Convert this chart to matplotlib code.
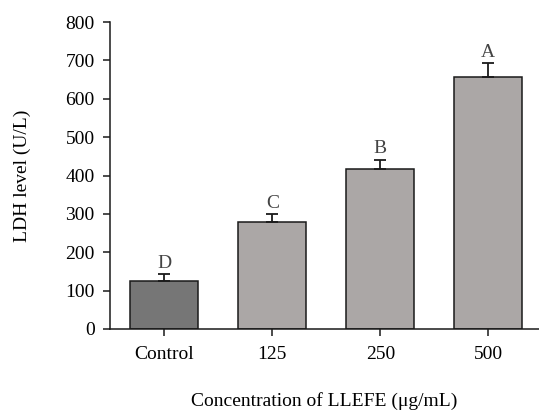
import matplotlib
matplotlib.use("Agg")
import matplotlib.pyplot as plt

# data
groups = ["Control", "125", "250", "500"]
ldh = [125, 279, 418, 657]
err = [18, 21, 23, 36]
letters = ["D", "C", "B", "A"]
bar_colors = ["#767676", "#aba7a6", "#aba7a6", "#aba7a6"]
yticks = [0, 100, 200, 300, 400, 500, 600, 700, 800]

plt.rcParams["font.family"] = ["Liberation Serif", "DejaVu Serif"]

fig = plt.figure(figsize=(5.39, 4.12), dpi=100)
ax = fig.add_axes([0.204, 0.2015, 0.796, 0.745])

x = list(range(len(groups)))
ax.bar(x, ldh, width=0.63, color=bar_colors, edgecolor="#1a1a1a", linewidth=1.1, zorder=2)
ax.errorbar(x, ldh, yerr=[[0] * len(err), err], fmt="none", ecolor="#1a1a1a",
            elinewidth=1.3, capsize=4, capthick=1.3, zorder=3)

for xi, v, e, lab in zip(x, ldh, err, letters):
    ax.text(xi, v + e + 6, lab, ha="center", va="bottom", fontsize=14, color="#444444")

ax.set_xlim(-0.505, 3.47)
ax.set_ylim(0, 800)
ax.set_yticks(yticks)
ax.set_xticks(x)
ax.set_xticklabels(groups)
ax.tick_params(axis="both", labelsize=14, direction="out", length=5, width=1.1, color="#1a1a1a")
ax.tick_params(axis="x", pad=7)
ax.tick_params(axis="y", pad=6)

for s in ["top", "right"]:
    ax.spines[s].set_visible(False)
for s in ["left", "bottom"]:
    ax.spines[s].set_linewidth(1.1)
    ax.spines[s].set_color("#1a1a1a")

ax.set_ylabel("LDH level (U/L)", fontsize=14, labelpad=25)
ax.set_xlabel("Concentration of LLEFE (\u03bcg/mL)", fontsize=14, labelpad=21)

fig.savefig("out.png", dpi=100)
